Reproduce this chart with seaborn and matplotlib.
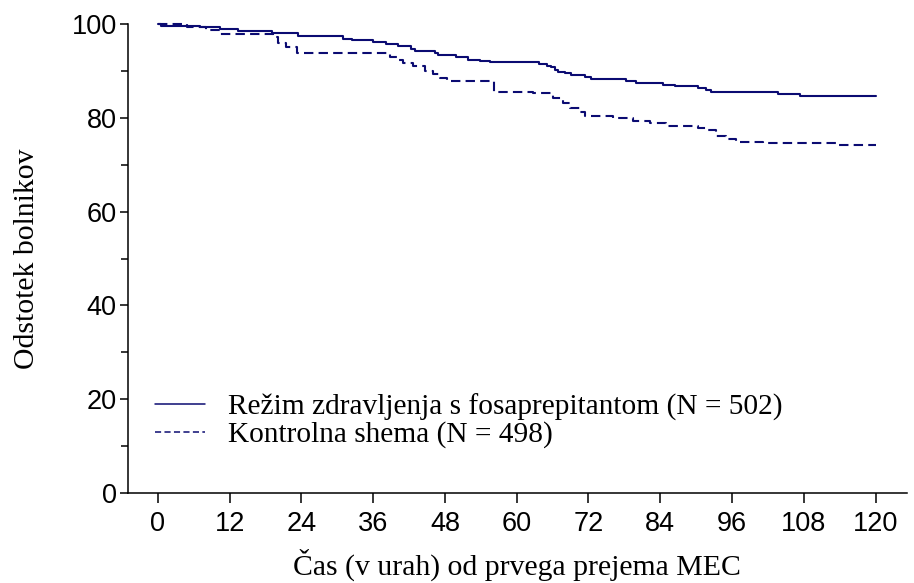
import matplotlib
matplotlib.use("Agg")
import matplotlib.pyplot as plt
import seaborn as sns
import pandas as pd
import numpy as np
from matplotlib.ticker import MultipleLocator

# --- data ---
fos_hours = [0, 0.6, 7.0, 10.4, 13.4, 19.0, 23.5, 31.0, 32.4, 36.0, 38.2, 40.2, 42.4, 43.0,
             46.3, 46.9, 49.9, 51.9, 53.8, 55.5, 63.8, 65.0, 65.8, 66.4, 66.9, 68.0, 69.1,
             71.4, 72.5, 78.3, 80.0, 84.5, 86.4, 90.3, 91.7, 92.5, 103.7, 107.3, 120]
fos_pct = [100, 99.6, 99.3, 98.9, 98.5, 98.1, 97.4, 96.9, 96.5, 96.1, 95.8, 95.4, 94.7, 94.2,
           93.75, 93.4, 92.9, 92.3, 92.1, 91.8, 91.4, 91.1, 90.8, 90.3, 89.8, 89.5, 89.1,
           88.8, 88.3, 87.8, 87.5, 87.1, 86.7, 86.3, 85.9, 85.5, 85.1, 84.7, 84.7]

ctl_hours = [0, 4.8, 8.1, 10.4, 19.3, 20.1, 21.5, 23.2, 38.8, 39.9, 41.0, 42.7, 44.6, 46.0,
             47.1, 48.3, 56.2, 62.7, 66.1, 67.7, 68.9, 70.5, 71.4, 76.1, 79.4, 82.2, 85.0,
             90.3, 91.7, 93.4, 95.0, 96.7, 101.2, 113.4, 120]
ctl_pct = [100, 99.4, 98.7, 97.8, 97.3, 96.0, 95.0, 93.75, 92.9, 92.3, 91.7, 91.0, 90.0, 89.3,
           88.4, 87.85, 85.6, 85.2, 84.2, 83.1, 82.0, 81.3, 80.4, 79.9, 79.4, 78.8, 78.3,
           77.8, 77.3, 76.1, 75.5, 74.9, 74.6, 74.1, 74.1]

labels = ["Režim zdravljenja s fosaprepitantom (N = 502)", "Kontrolna shema (N = 498)"]
x_ticks = [0, 12, 24, 36, 48, 60, 72, 84, 96, 108, 120]
y_ticks = [0, 20, 40, 60, 80, 100]
x_label = "Čas (v urah) od prvega prejema MEC"
y_label = "Odstotek bolnikov"

df = pd.concat([
    pd.DataFrame({"h": fos_hours, "p": fos_pct, "g": labels[0]}),
    pd.DataFrame({"h": ctl_hours, "p": ctl_pct, "g": labels[1]}),
], ignore_index=True)

sns.set_style("ticks")
plt.rcParams["font.family"] = ["Liberation Sans", "DejaVu Sans"]
plt.rcParams["text.color"] = "black"
plt.rcParams["axes.labelcolor"] = "black"
plt.rcParams["xtick.color"] = "black"
plt.rcParams["ytick.color"] = "black"

navy = "#0b0b72"
fig = plt.figure(figsize=(9.14, 5.83), dpi=100)
ax = fig.add_axes([0.140, 0.1544, 0.852, 0.8044])

sns.lineplot(data=df, x="h", y="p", hue="g", style="g",
             palette=[navy, navy], dashes={labels[0]: "", labels[1]: (4.5, 2.5)},
             drawstyle="steps-post", estimator=None, sort=False,
             linewidth=1.5, ax=ax, clip_on=False)

ax.set_xlim(-5, 125.2)
ax.set_ylim(0, 100)
ax.set_xticks(x_ticks)
ax.set_yticks(y_ticks)
ax.yaxis.set_minor_locator(MultipleLocator(10))
ax.tick_params(axis="both", which="major", direction="out", length=6, width=1.1,
               labelsize=19.5, color="black", labelcolor="black")
ax.tick_params(axis="x", which="major", length=7.2, pad=6)
ax.tick_params(axis="y", which="major", pad=2)
ax.tick_params(axis="y", which="minor", direction="out", length=5, width=1.1)
for s in ["top", "right"]:
    ax.spines[s].set_visible(False)
for s in ["left", "bottom"]:
    ax.spines[s].set_linewidth(1.1)
    ax.spines[s].set_color("black")

serif = ["Liberation Serif", "DejaVu Serif"]
ax.set_xlabel(x_label, fontsize=21.4, family=serif, labelpad=8)
ax.set_ylabel(y_label, fontsize=21.4, family=serif, labelpad=23)

leg = ax.legend(loc="upper left", bbox_to_anchor=(0.02, 0.237), frameon=False,
                prop={"family": serif, "size": 21.2}, handlelength=1.7,
                handletextpad=0.78, labelspacing=0.02, borderaxespad=0)
lines = leg.get_lines()
for h in lines:
    h.set_linewidth(1.1)
lines[1].set_dashes((4, 2.2))

fig.savefig("out.png", dpi=100)
